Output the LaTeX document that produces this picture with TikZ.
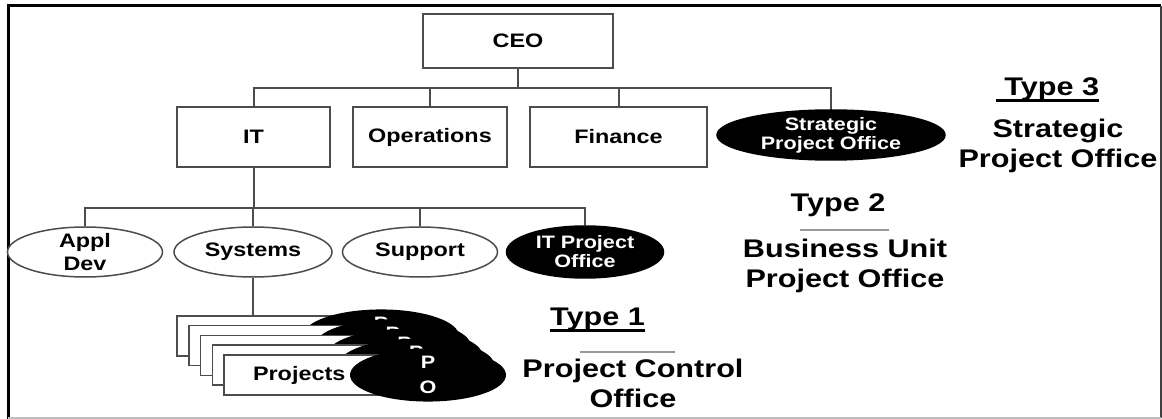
\documentclass[tikz,border=0pt]{standalone}
\usepackage{fontspec}
\setmainfont{Liberation Sans}[FakeStretch=1.2]
\usetikzlibrary{shapes.geometric}

\begin{document}
\begin{tikzpicture}[x=1pt, y=-1pt,
	link/.style={draw=black!70, line width=2pt},
	unit/.style={draw=black!70, line width=2pt, fill=white, minimum height=60pt, inner sep=0pt, font=\fontsize{19.5}{23}\selectfont\bfseries},
	dept/.style={ellipse, draw=black!70, line width=1.5pt, fill=white, minimum width=155pt, minimum height=50pt, inner xsep=0pt, inner ysep=-4pt, align=center, font=\fontsize{19.5}{23}\selectfont\bfseries},
	pmo/.style={dept, draw=black, fill=black, text=white, font=\fontsize{18}{19}\selectfont\bfseries},
	projbox/.style={draw=black!70, line width=1.5pt, fill=white, minimum height=40pt, text width=158pt, inner xsep=29pt, inner ysep=0pt, align=left, font=\fontsize{19.5}{23}\selectfont\bfseries},
	poell/.style={ellipse, fill=black, text=white, minimum width=156pt, minimum height=50pt, inner sep=0pt, align=center, font=\fontsize{18}{25}\selectfont\bfseries},
	side/.style={inner sep=0pt, align=center, font=\fontsize{25.5}{30}\selectfont\bfseries}]
	\useasboundingbox (0,0) rectangle (1162,419);
	\draw[line width=3pt] (8,419) -- (8,6) -- (1161,6);
	\draw[black!75, line width=2pt] (1161,6) -- (1161,418);
	\draw[black!25, line width=1.5pt] (8,418) -- (1161,418);

	\node[unit, minimum width=190pt, minimum height=54pt] (ceo) at (518,41) {CEO};
	\node[unit, minimum width=153pt] (it) at (253.5,137) {IT};
	\node[unit, minimum width=154pt] (ops) at (430,137) {Operations};
	\node[unit, minimum width=177pt] (fin) at (618.5,137) {Finance};
	\node[pmo, minimum width=228pt] (spo) at (831,135) {Strategic\\Project Office};
	\coordinate (bus1) at (0,88);
	\coordinate (bus2) at (0,208);

	\node[dept] (appl) at (85,252) {Appl\\Dev};
	\node[dept, minimum width=158pt] (sys) at (253,252) {Systems};
	\node[dept] (sup) at (420,252) {Support};
	\node[pmo, minimum width=157pt, minimum height=52pt] (itpo) at (585,252) {IT Project\\Office};

	\foreach \i in {0,...,4} {
		\node[projbox] (prj\i) at ({285+11.75*\i},{336+9.75*\i}) {\ifnum\i=4 Projects\fi};
		\node[poell] (po\i) at ({381+11.75*\i},{336+9.75*\i}) {P\\O};
	}

	\draw[link] (ceo.south) -- (ceo.south |- bus1);
	\foreach \n in {it,ops,fin,spo}
		\draw[link] (ceo.south) |- (bus1 -| \n) -- (\n.north);
	\foreach \n in {appl,sys,sup,itpo}
		\draw[link] (it.south) |- (bus2 -| \n) -- (\n.north);
	\draw[link] (sys.south) -- (sys.south |- prj0.north);

	\node[side] (t3) at (1047.5,89) {\ Type 3};
	\draw[line width=2.5pt] (t3.south west) -- (t3.south east);
	\node[side] (spotxt) at (1058,146) {Strategic\\Project Office};
	\node[side] (t2) at (838,205) {Type 2};
	\draw[black!40, line width=1.2pt] (800,230) -- (889,230);
	\node[side] (butxt) at (845,266) {Business Unit\\Project Office};
	\node[side] (t1) at (597.5,319) {Type 1};
	\draw[line width=2.5pt] (t1.south west) -- (t1.south east);
	\draw[black!40, line width=1.2pt] (580,352) -- (675,352);
	\node[side] (pctxt) at (633,383) {Project Control\\Office};
\end{tikzpicture}
\end{document}
